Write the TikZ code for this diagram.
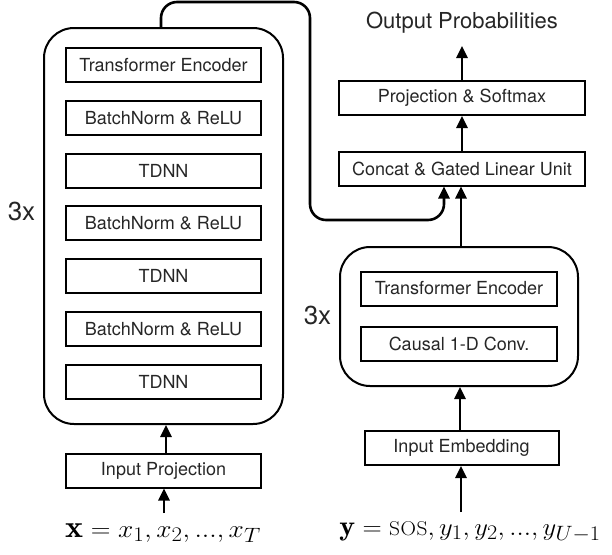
\documentclass[tikz,border=0pt]{standalone}
\usepackage{fontspec}
\usepackage{graphicx}
\setsansfont{TeX Gyre Heros}
\usetikzlibrary{arrows.meta,calc}
\newcommand{\sostok}{\mbox{\fontsize{20}{20}\selectfont\rmfamily S\kern0.5ptO\kern0.5ptS}}
\tikzset{
  blk/.style={draw, line width=2pt, font=\sffamily\fontsize{18}{20}\selectfont, text=black!85, inner sep=0pt, minimum height=34pt},
  grp/.style={draw, line width=2pt, rounded corners=30pt, inner sep=0pt},
  arr/.style={line width=2.6pt, -{Triangle[width=11pt,length=12pt]}},
  lbl/.style={font=\sffamily\fontsize{22}{24}\selectfont, text=black!85, inner sep=0pt},
  big3/.style={font=\sffamily\fontsize{26}{28}\selectfont, text=black!85, inner sep=0pt},
  mth/.style={inner sep=0pt, anchor=base}
}
\begin{document}
\begin{tikzpicture}[x=1pt,y=-1pt]
\useasboundingbox (0,0) rectangle (612,554);
% left encoder group
\node[grp, minimum width=239pt, minimum height=396pt] (encgrp) at (163.5,226) {};
\node[blk, minimum width=195pt] (e1) at (163.5,65) {Transformer Encoder};
\node[blk, minimum width=195pt] (e2) at (163.5,117.8) {BatchNorm \& ReLU};
\node[blk, minimum width=195pt] (e3) at (163.5,170.6) {TDNN};
\node[blk, minimum width=195pt] (e4) at (163.5,223.4) {BatchNorm \& ReLU};
\node[blk, minimum width=195pt] (e5) at (163.5,276.2) {TDNN};
\node[blk, minimum width=195pt] (e6) at (163.5,329) {BatchNorm \& ReLU};
\node[blk, minimum width=195pt] (e7) at (163.5,381.8) {TDNN};
\node[big3] (l3x) at (21.5,211) {3x};
\node[blk, minimum width=195pt] (inproj) at (163.5,470.5) {Input Projection};
\node[mth, font=\fontsize{31}{34}\selectfont] (xin) at (163,537) {\scalebox{1.1}[1]{$\mathbf{x}=x_1,x_2,...,x_T$}};
% right decoder
\node[grp, minimum width=238pt, minimum height=139pt] (decgrp) at (459,316.5) {};
\node[blk, minimum width=196pt] (d1) at (459,288.5) {Transformer Encoder};
\node[blk, minimum width=196pt] (d2) at (459,344) {Causal 1-D Conv.};
\node[big3] (r3x) at (317.5,315.5) {3x};
\node[blk, minimum width=194pt] (inemb) at (461.5,448) {Input Embedding};
\node[mth, font=\fontsize{28}{31}\selectfont] (yin) at (470,535) {\scalebox{1.07}[1]{$\mathbf{y}=\sostok,y_1,y_2,...,y_{U-1}$}};
% top
\node[blk, minimum width=246pt] (concat) at (462,168.5) {Concat \& Gated Linear Unit};
\node[blk, minimum width=246pt] (proj) at (462,98) {Projection \& Softmax};
\node[lbl] (out) at (462,23) {Output Probabilities};
% arrows
\coordinate (xtop) at (164,513);
\coordinate (ytop) at (461,512);
\draw[arr] (xtop) -- (inproj.south -| xtop);
\draw[arr] (inproj.north -| 166,0) -- (encgrp.south -| 166,0);
\draw[arr] (ytop) -- (inemb.south -| ytop);
\draw[arr] (inemb.north -| 460,0) -- (decgrp.south -| 460,0);
\draw[arr] (decgrp.north -| 461,0) -- (concat.south -| 461,0);
\draw[arr] (concat.north) -- (proj.south);
\draw[arr] (proj.north) -- (462,46);
\coordinate (skip) at (encgrp.north -| 161,0);
\coordinate (skipend) at (concat.south -| 444,0);
\draw[arr, rounded corners=16pt] (skip) |- (310,2) |- (444,220) -- (skipend);
\end{tikzpicture}
\end{document}
